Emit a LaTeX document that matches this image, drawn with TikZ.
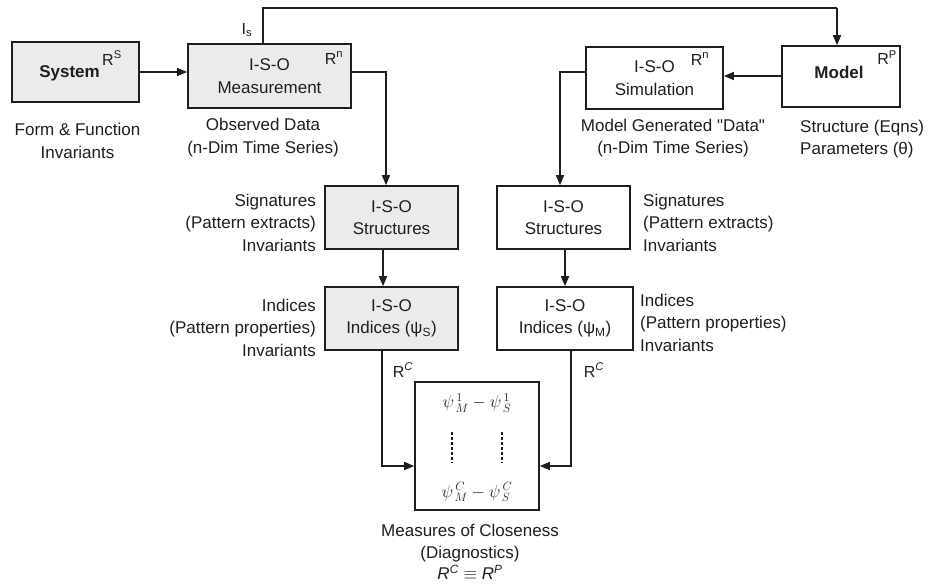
\documentclass[tikz,border=0pt]{standalone}
\usepackage{fontspec}
\setmainfont{Liberation Sans}
\newfontfamily\qfont{Liberation Sans}
\usetikzlibrary{arrows.meta}
\definecolor{boxgray}{HTML}{EBEBEB}
\definecolor{linec}{HTML}{1E1E1E}
\begin{document}
\begin{tikzpicture}[x=1pt,y=-1pt,
  every node/.style={font=\fontsize{17}{22.5}\selectfont, inner sep=0pt, text=linec},
  box/.style={draw=linec, line width=1.6pt, align=center},
  graybox/.style={box, fill=boxgray},
  conn/.style={draw=linec, line width=1.5pt},
  arr/.style={conn, -{Triangle[length=10pt,width=8pt]}},
  lbl/.style={align=center},
  sup/.style={font=\fontsize{16}{18}\selectfont}
]
\useasboundingbox (0,0) rectangle (931,585);

% boxes
\node[graybox, minimum width=127pt, minimum height=60pt] (sys) at (75.5,72) {};
\node[graybox, minimum width=163pt, minimum height=64pt] (meas) at (269.5,76) {I-S-O\\Measurement};
\node[box, minimum width=137pt, minimum height=62pt] (sim) at (654.5,78) {I-S-O\\Simulation};
\node[box, minimum width=118pt, minimum height=61pt] (model) at (841,76.5) {};
\node[graybox, minimum width=133pt, minimum height=63pt] (strL) at (391.5,217.5) {I-S-O\\Structures};
\node[box, minimum width=133pt, minimum height=63pt] (strR) at (563.5,217.5) {I-S-O\\Structures};
\node[graybox, minimum width=133pt, minimum height=63pt] (indL) at (391.5,318.5) {I-S-O\\Indices (ψ\textsubscript{S})};
\node[box, minimum width=136pt, minimum height=63pt] (indR) at (565,318.5) {I-S-O\\Indices (ψ\textsubscript{M})};
\node[box, minimum width=124pt, minimum height=128pt] (close) at (477,446) {};

% texts inside system / model
\node[font=\bfseries\fontsize{17}{20}\selectfont] (systxt) at (69.5,73) {System};
\node[sup] (sysR) at (112,58) {R\textsuperscript{S}};
\node[font=\bfseries\fontsize{17}{20}\selectfont] (modtxt) at (839,72) {Model};
\node[sup] (modR) at (887,58) {R\textsuperscript{P}};
\node[sup] (measR) at (334,58) {R\textsuperscript{n}};
\node[sup] (simR) at (700,59) {R\textsuperscript{n}};

% closeness contents
\node (f1) at (477,403) {$\psi^{\,1}_{\,M} - \psi^{\,1}_{\,S}$};
\node (f2) at (477,492) {$\psi^{\,C}_{\,M} - \psi^{\,C}_{\,S}$};
\coordinate (d1a) at (452,432); \coordinate (d1b) at (452,463);
\coordinate (d2a) at (502,432); \coordinate (d2b) at (502,463);
\draw[conn, dash pattern=on 3pt off 2pt] (d1a) -- (d1b);
\draw[conn, dash pattern=on 3pt off 2pt] (d2a) -- (d2b);

% labels
\node[lbl] (ff) at (77.5,141) {Form \& Function\\Invariants};
\node[lbl] (obs) at (263,137.5) {Observed Data\\(n-Dim Time Series)};
\node[lbl] (mgd) at (673,138) {Model Generated {\qfont "}Data{\qfont "}\\(n-Dim Time Series)};
\node[align=left, anchor=west] (seq) at (800,139) {Structure (Eqns)\\Parameters (θ)};
\node[align=right, anchor=east] (sigL) at (316,222.5) {Signatures\\(Pattern extracts)\\Invariants};
\node[align=left, anchor=west] (sigR) at (643,222.5) {Signatures\\(Pattern extracts)\\Invariants};
\node[align=right, anchor=east] (ixL) at (316,327.5) {Indices\\(Pattern properties)\\Invariants};
\node[align=left, anchor=west] (ixR) at (640,322.5) {Indices\\(Pattern properties)\\Invariants};
\node[sup] (rcL) at (403,370) {R\textsuperscript{\textit{C}}};
\node[sup] (rcR) at (594,370) {R\textsuperscript{\textit{C}}};
\node[sup] (is) at (247,30) {I\textsubscript{s}};
\node[lbl, font=\fontsize{17}{21.5}\selectfont] (moc) at (470,552) {Measures of Closeness\\(Diagnostics)\\\textit{R}\textsuperscript{\textit{C}} $\equiv$ \textit{R}\textsuperscript{\textit{P}}};

% connectors
\draw[arr] (sys.east |- 0,72) -- (meas.west |- 0,72);
\coordinate (t1) at (263,8);
\coordinate (t2) at (837,8);
\draw[conn, line width=1.8pt] (meas.north -| t1) -- (t1) -- (t2);
\draw[arr] (t2) -- (model.north -| t2);
\coordinate (m1) at (386,72);
\draw[arr] (meas.east |- m1) -- (m1) -- (strL.north -| m1);
\draw[arr] (model.west |- 0,76) -- (sim.east |- 0,76);
\coordinate (s1) at (560,72);
\draw[arr] (sim.west |- s1) -- (s1) -- (strR.north -| s1);
\coordinate (a1) at (383,0);
\draw[arr] (strL.south -| a1) -- (indL.north -| a1);
\coordinate (a2) at (565,0);
\draw[arr] (strR.south -| a2) -- (indR.north -| a2);
\coordinate (b1) at (382,466);
\draw[arr] (indL.south -| b1) -- (b1) -- (close.west |- b1);
\coordinate (b2) at (571,466);
\draw[arr] (indR.south -| b2) -- (b2) -- (close.east |- b2);
\end{tikzpicture}
\end{document}
